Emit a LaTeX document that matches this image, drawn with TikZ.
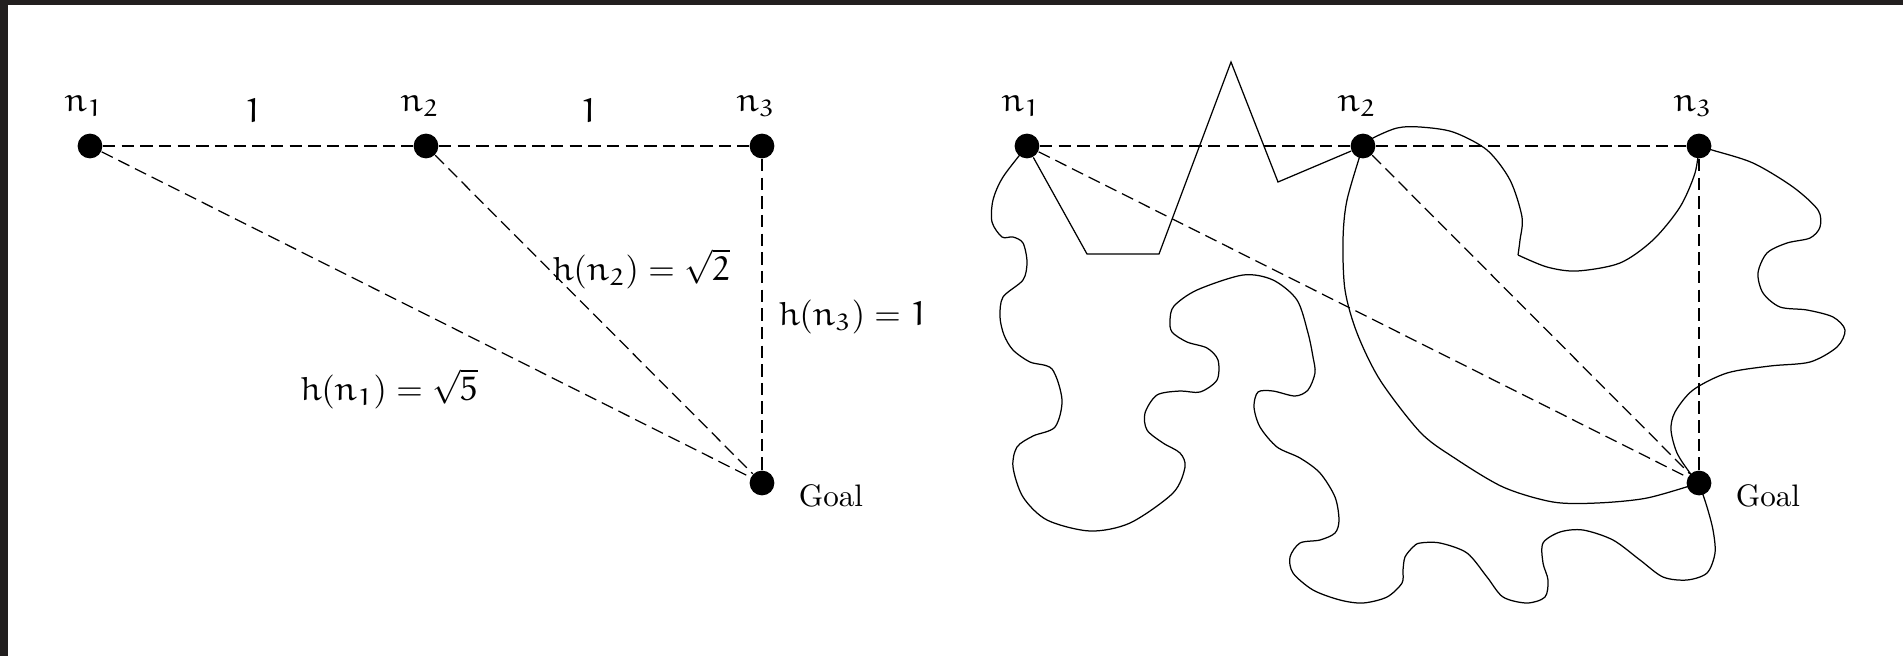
\documentclass[tikz,border=0pt]{standalone}
\DeclareSymbolFont{eulerletters}{U}{eur}{m}{n}
\DeclareMathSymbol{h}{\mathalpha}{eulerletters}{`h}
\DeclareMathSymbol{n}{\mathalpha}{eulerletters}{`n}
\DeclareMathSymbol{1}{\mathalpha}{eulerletters}{`1}
\DeclareMathSymbol{2}{\mathalpha}{eulerletters}{`2}
\DeclareMathSymbol{3}{\mathalpha}{eulerletters}{`3}
\DeclareMathSymbol{5}{\mathalpha}{eulerletters}{`5}
\definecolor{framegray}{HTML}{221F1F}

\begin{document}
\begin{tikzpicture}[x=0.01131cm, y=-0.01131cm,
    dot/.style={circle, fill=black, inner sep=0pt, minimum size=0.28cm},
    hdash/.style={dash pattern=on 4pt off 2pt, line width=0.4pt},
    mathlbl/.style={font=\fontsize{10.9}{13}\selectfont}]
    \pgfmathsetmacro{\gap}{336}
    \useasboundingbox (0,0) rectangle (1903,656);
    \fill[framegray] (0,0) rectangle (1903,5);
    \fill[framegray] (0,0) rectangle (8,656);
    % the same three nodes and goal, twice
    \foreach \g/\ox in {a/90, b/1027} {
        \foreach \n in {1,2,3} {
            \node[dot] (\g\n) at ({\ox+(\n-1)*\gap},146) {};
            \node[mathlbl] at ({\ox+(\n-1)*\gap-6},106) {$n_\n$};
        }
        \node[dot] (\g goal) at ({\ox+2*\gap},483) {};
        \node at ({\ox+2*\gap+69},496) {Goal};
        \draw[hdash] (\g1) -- (\g2) -- (\g3) -- (\g goal);
        \draw[hdash] (\g1) -- (\g goal);
        \draw[hdash] (\g2) -- (\g goal);
    }
    \node[mathlbl] at (253,111) {$1$};
    \node[mathlbl] at (589,111) {$1$};
    \node[mathlbl] at (641,269) {$h(n_2) = \sqrt{2}$};
    \node[mathlbl] at (853,317) {$h(n_3) = 1$};
    \node[mathlbl] at (389,389) {$h(n_1) = \sqrt{5}$};
    % paths on the right
    \draw (b1) -- (1087,254) -- (1159,254) -- (1231,62) -- (1278,182) -- (b2);
    \draw plot[smooth] coordinates {(b1) (1003,177) (993,200) (992,222) (1002,237)
        (1013,237) (1023,243) (1027,262) (1023,280) (1003,297) (1000,317) (1004,335)
        (1013,350) (1030,362) (1052,369) (1062,400) (1055,427) (1033,436) (1017,447)
        (1013,467) (1023,497) (1047,520) (1090,531) (1130,523) (1173,493) (1185,467)
        (1180,453) (1163,443) (1147,430) (1145,413) (1157,395) (1180,391) (1200,392)
        (1217,380) (1218,360) (1207,348) (1187,342) (1172,332) (1170,320) (1174,306)
        (1197,290) (1243,275) (1273,280) (1297,300) (1308,333) (1313,357) (1315,373)
        (1308,390) (1295,396) (1273,391) (1258,392) (1254,407) (1260,427) (1277,447)
        (1300,458) (1320,473) (1335,497) (1339,520) (1335,533) (1320,540) (1300,543)
        (1290,557) (1293,573) (1313,590) (1340,600) (1363,603) (1387,597) (1402,583)
        (1403,570) (1405,557) (1413,547) (1420,543) (1440,543) (1467,553) (1487,577)
        (1503,597) (1527,603) (1545,597) (1548,580) (1543,563) (1543,543) (1560,532)
        (1583,530) (1613,540) (1640,560) (1663,577) (1687,580) (1707,573) (1715,553)
        (1713,530) (1707,507) (bgoal)};
    \draw plot[smooth] coordinates {(b2) (1347,200) (1343,240) (1345,290) (1357,333)
        (1380,380) (1420,432) (1453,457) (1503,487) (1553,502) (1597,503) (1647,498)
        (bgoal)};
    \draw plot[smooth] coordinates {(b2) (1373,138) (1397,128) (1420,127) (1453,132)
        (1487,150) (1510,180) (1522,217) (1520,240) (1518,255)};
    \draw plot[smooth] coordinates {(1518,255) (1547,267) (1577,271) (1620,263)
        (1653,240) (1680,207) (1695,173) (b3)};
    \draw plot[smooth] coordinates {(b3) (1712,150) (1753,163) (1793,187) (1818,210)
        (1820,227) (1810,238) (1787,243) (1767,253) (1758,273) (1763,293) (1780,307)
        (1807,310) (1833,317) (1845,330) (1837,347) (1810,362) (1770,366) (1727,373)
        (1693,390) (1675,412) (1671,430) (1677,453) (1690,473) (bgoal)};
\end{tikzpicture}
\end{document}
